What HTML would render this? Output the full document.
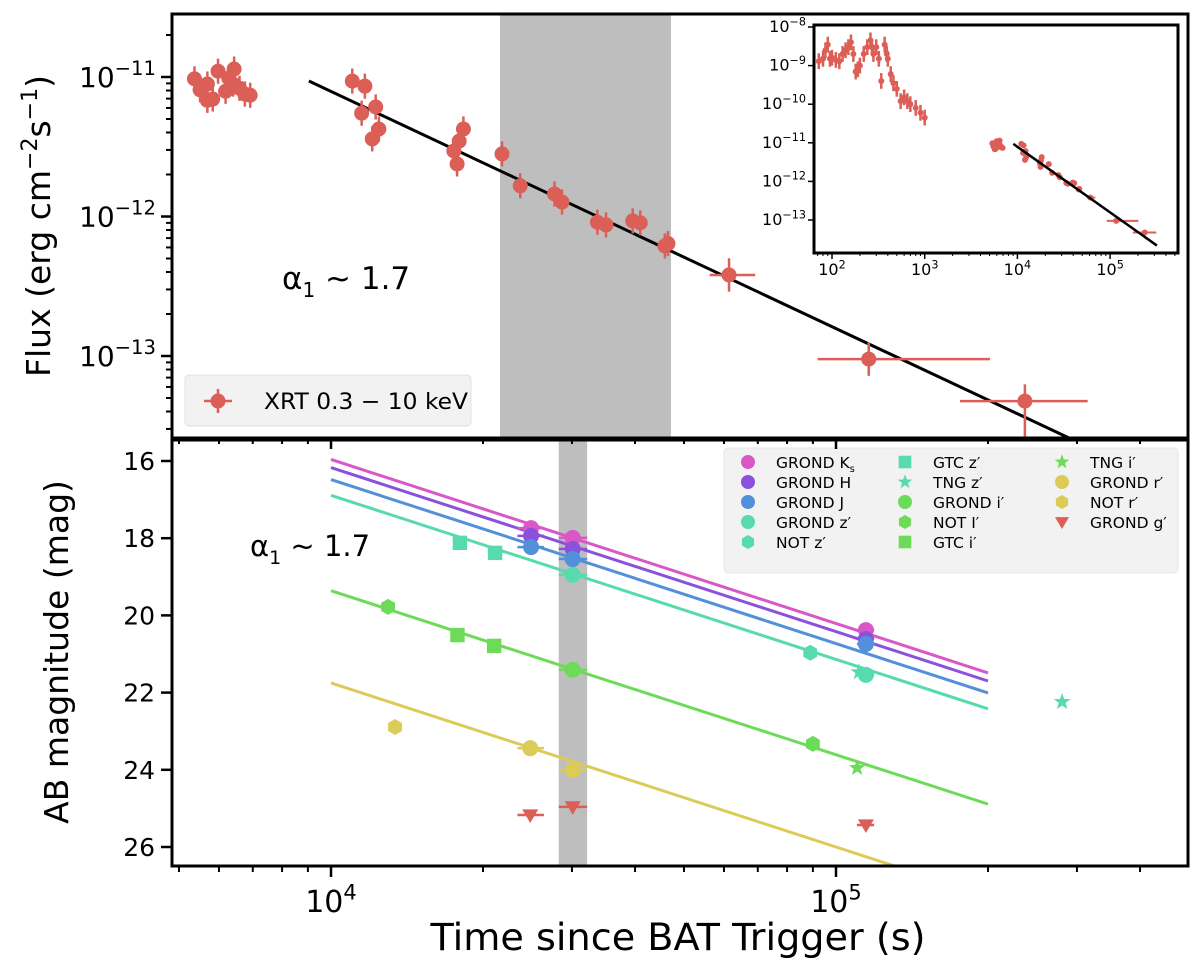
<!DOCTYPE html>
<html><head><meta charset="utf-8"><style>
html,body{margin:0;padding:0;background:#fff;}
svg{display:block;font-family:"DejaVu Sans","Liberation Sans",sans-serif;}
</style></head><body>
<svg id="chart" width="1200" height="966" viewBox="0 0 1200 966" xmlns="http://www.w3.org/2000/svg">
<defs>
<clipPath id="clipTop"><rect x="172" y="14" width="1016" height="424"/></clipPath>
<clipPath id="clipBot"><rect x="172" y="440" width="1016" height="426"/></clipPath>
<clipPath id="clipIn"><rect x="814" y="25" width="364" height="228"/></clipPath>
</defs>
<g id="layer"></g>
</svg>
<script>
// ---------- data: top panel (XRT) ----------
const xrtTime = [5366,5505,5691,5832,5975,6184,6275,6400,6429,6589,6752,6918,5691,
  11020,11670,11500,12260,12440,12070,18290,17940,17510,17770,21810,23700,27710,28670,33690,35040,39580,40960,45830,46480,61400,116100,236600];
const xrtFlux = [9.7e-12,8.1e-12,8.9e-12,6.95e-12,1.10e-11,7.9e-12,9.8e-12,8.9e-12,1.14e-11,8.3e-12,7.55e-12,7.4e-12,6.8e-12,
  9.35e-12,8.6e-12,5.5e-12,6.1e-12,4.24e-12,3.6e-12,4.24e-12,3.47e-12,2.95e-12,2.38e-12,2.81e-12,1.66e-12,1.45e-12,1.27e-12,9.1e-13,8.7e-13,9.3e-13,9.0e-13,6.15e-13,6.4e-13,3.81e-13,9.5e-14,4.75e-14];
const xrtTimeLo = [null,null,null,null,null,null,null,null,null,null,null,null,null,null,null,null,null,null,null,null,null,null,null,null,null,null,null,null,null,null,null,null,null,56200,92000,176000];
const xrtTimeHi = [null,null,null,null,null,null,null,null,null,null,null,null,null,null,null,null,null,null,null,null,null,null,null,null,null,null,null,null,null,null,null,null,null,69200,201800,315000];
const xrtFitRange = [9040, 320000];
const xrtFitAmp = 9.36e-12; // flux at 9040 s
const alphaXrt = 1.7;
const bandTop = [21610, 47130];
const bandBot = [28250, 32150];

// inset early data
const insetTime = [72,80,85,90,95,100,110,120,130,140,150,160,170,180,190,200,220,240,260,270,280,300,320,340,370,390,400,430,460,500,550,600,650,700,800,900,1000];
const insetFlux = [1.3e-9,1.5e-9,2.5e-9,3.5e-9,1.5e-9,1.6e-9,1.4e-9,1.3e-9,2e-9,2.5e-9,3e-9,4e-9,2e-9,7e-10,8e-10,1e-9,2e-9,3e-9,4.5e-9,3e-9,2e-9,3e-9,1.5e-9,4e-10,3.5e-9,2e-9,1.5e-9,6e-10,3.5e-10,2.5e-10,1.2e-10,1.5e-10,1.2e-10,1e-10,8e-11,6e-11,4.5e-11];

// ---------- data: bottom panel (optical/NIR) ----------
const bandNames = ["Ks","H","J","z","i","r","g"];
const bandColors = ["#d957c6","#8a52dc","#5290db","#57dbac","#6cdb57","#dbcb57","#db5f57"];
const fitMagAt1e4 = [15.96,16.17,16.48,16.89,19.36,21.75,null];
const fitRange = [10000, 200000];
const alphaOpt = 1.7;

const ptLabel = ["GROND Ks","GROND Ks","GROND Ks","GROND H","GROND H","GROND H","GROND J","GROND J","GROND J",
 "GROND z","GROND z","NOT z","GTC z","GTC z","TNG z","TNG z",
 "GROND i","NOT i","NOT i","GTC i","GTC i","TNG i",
 "GROND r","GROND r","NOT r","GROND g","GROND g","GROND g"];
const ptBand = [0,0,0,1,1,1,2,2,2, 3,3,3,3,3,3,3, 4,4,4,4,4,4, 5,5,5, 6,6,6];
const ptMarker = ["o","o","o","o","o","o","o","o","o", "o","o","h","s","s","*","*", "o","h","h","s","s","*", "o","o","h","v","v","v"];
const ptTime = [24900,30100,114600, 24900,30100,114600, 24900,30100,114600,
  30100,114600,88900,18000,21130,111000,280400,
  30100,12970,90000,17800,21040,110100,
  24800,30100,13390, 24800,30100,114600];
const ptMag = [17.74,17.99,20.38, 17.94,18.28,20.61, 18.23,18.54,20.74,
  18.95,21.54,20.97,18.12,18.38,21.47,22.24,
  21.41,19.78,23.33,20.51,20.79,23.95,
  23.44,24.01,22.89, 25.17,24.96,25.43];
const ptTimeLo = [23400,28250,110000, 23400,28250,110000, 23400,28250,110000,
  28250,110000,null,null,null,null,null,
  28250,null,null,null,null,null,
  23400,28250,null, 23400,28250,110000];
const ptTimeHi = [26400,32150,119000, 26400,32150,119000, 26400,32150,119000,
  32150,119000,null,null,null,null,null,
  32150,null,null,null,null,null,
  26400,32150,null, 26400,32150,119000];

const legLabels = [["GROND K","s"],["GROND H",""],["GROND J",""],["GROND z′",""],["NOT z′",""],
 ["GTC z′",""],["TNG z′",""],["GROND i′",""],["NOT I′",""],["GTC i′",""],
 ["TNG i′",""],["GROND r′",""],["NOT r′",""],["GROND g′",""]];
const legBand = [0,1,2,3,3, 3,3,4,4,4, 4,5,5,6];
const legMarker = ["o","o","o","o","h", "s","*","o","h","s", "*","o","h","v"];

// ---------- axes ----------
const L = Math.log10;
const xs = t => 331 + (L(t) - 4) * 505;
const yf = f => 77 - (L(f) + 11) * 139.5;
const ym = m => 461 + (m - 16) * 38.6;
const xi = t => 832 + (L(t) - 2) * 92.7;
const yi = f => 27 + (-8 - L(f)) * 38.6;

const NS = "http://www.w3.org/2000/svg";
const root = document.getElementById("layer");
function mk(tag, attrs, parent) {
  const e = document.createElementNS(NS, tag);
  for (const k in attrs) e.setAttribute(k, attrs[k]);
  (parent || root).appendChild(e);
  return e;
}
function grp(name, clip) {
  const g = mk("g", clip ? {"clip-path": "url(#" + clip + ")"} : {});
  
  
  return g;
}
function marker(type, cx, cy, r, color, parent) {
  let e;
  if (type === "o") e = mk("circle", {cx: cx, cy: cy, r: r, fill: color}, parent);
  else if (type === "s") e = mk("rect", {x: cx - r * 0.9, y: cy - r * 0.9, width: r * 1.8, height: r * 1.8, fill: color}, parent);
  else {
    let pts = [];
    if (type === "h") { for (let k = 0; k < 6; k++) { const a = Math.PI / 6 + k * Math.PI / 3; pts.push([cx + r * Math.cos(a), cy + r * Math.sin(a)]); } }
    else if (type === "v") { pts = [[cx - r, cy - r * 0.7], [cx + r, cy - r * 0.7], [cx, cy + r]]; }
    else if (type === "*") { for (let k = 0; k < 10; k++) { const a = -Math.PI / 2 + k * Math.PI / 5; const rr = k % 2 ? r * 0.45 : r * 1.1; pts.push([cx + rr * Math.cos(a), cy + rr * Math.sin(a)]); } }
    e = mk("polygon", {points: pts.map(p => p[0].toFixed(1) + "," + p[1].toFixed(1)).join(" "), fill: color}, parent);
  }
  return e;
}
function powText(x, y, exp, size, anchor, parent) {
  const t = mk("text", {x: x, y: y, "font-size": size, "text-anchor": anchor, fill: "#000"}, parent);
  t.textContent = "10";
  const s = mk("tspan", {"font-size": size * 0.7, dy: -size * 0.42}, t);
  s.textContent = exp;
  return t;
}

// shaded bands
const gb = grp("shaded-intervals", null);
let sb = mk("rect", {x: xs(bandTop[0]), y: 14, width: xs(bandTop[1]) - xs(bandTop[0]), height: 424, fill: "#bebebe"}, gb);


sb = mk("rect", {x: xs(bandBot[0]), y: 440, width: xs(bandBot[1]) - xs(bandBot[0]), height: 426, fill: "#bebebe"}, gb);



// ---------- top panel ----------
const gt = grp("xrt-series", "clipTop");
const red = "#db5f57";
const fitFlux = t => xrtFitAmp * Math.pow(t / xrtFitRange[0], -alphaXrt);
let fl = mk("line", {x1: xs(xrtFitRange[0]), y1: yf(fitFlux(xrtFitRange[0])), x2: xs(xrtFitRange[1]), y2: yf(fitFlux(xrtFitRange[1])), stroke: "#000", "stroke-width": 3}, gt);


for (let i = 0; i < xrtTime.length; i++) {
  const cx = xs(xrtTime[i]), cy = yf(xrtFlux[i]);
  const g = mk("g", {}, gt);
  
  
  const late = i >= xrtTime.length - 3;
  const ee = late ? 0.12 : 0.09;
  mk("line", {x1: cx, y1: yf(xrtFlux[i] * Math.pow(10, ee)), x2: cx, y2: yf(xrtFlux[i] / Math.pow(10, ee * (late && i === xrtTime.length - 1 ? 3 : 1))), stroke: red, "stroke-width": 2.5}, g);
  if (xrtTimeLo[i]) mk("line", {x1: xs(xrtTimeLo[i]), y1: cy, x2: xs(xrtTimeHi[i]), y2: cy, stroke: red, "stroke-width": 2.5}, g);
  marker("o", cx, cy, 7.5, red, g);
}
// top legend
const lg = grp("xrt-legend", null);
mk("rect", {x: 185, y: 375, width: 286, height: 51, rx: 4, fill: "#f2f2f2", stroke: "#e0e0e0"}, lg);
mk("line", {x1: 204, y1: 401, x2: 232, y2: 401, stroke: red, "stroke-width": 2.5}, lg);
mk("line", {x1: 218, y1: 389, x2: 218, y2: 413, stroke: red, "stroke-width": 2.5}, lg);
marker("o", 218, 401, 7.5, red, lg);
let tt = mk("text", {x: 264, y: 409, "font-size": 22.5, fill: "#000", textLength: 204, lengthAdjust: "spacingAndGlyphs"}, lg);
tt.textContent = "XRT 0.3 − 10 keV";



// alpha annotation top
tt = mk("text", {x: 282, y: 289, "font-size": 31, fill: "#000"});
tt.innerHTML = 'α<tspan font-size="20" dy="8">1</tspan><tspan dy="-8"> ~ 1.7</tspan>';



// ---------- inset ----------
const gi = grp("inset-plot", null);
mk("rect", {x: 814, y: 25, width: 364, height: 228, fill: "#fff"}, gi);
const gic = mk("g", {"clip-path": "url(#clipIn)"}, gi);
for (let i = 0; i < insetTime.length; i++) {
  mk("circle", {cx: xi(insetTime[i]), cy: yi(insetFlux[i]), r: 3, fill: red}, gic);
  mk("line", {x1: xi(insetTime[i]), y1: yi(insetFlux[i] * 1.6), x2: xi(insetTime[i]), y2: yi(insetFlux[i] / 1.6), stroke: red, "stroke-width": 2.5}, gic);
}
for (let i = 0; i < xrtTime.length; i++) {
  mk("circle", {cx: xi(xrtTime[i]), cy: yi(xrtFlux[i]), r: 3, fill: red}, gic);
  if (xrtTimeLo[i]) mk("line", {x1: xi(xrtTimeLo[i]), y1: yi(xrtFlux[i]), x2: xi(xrtTimeHi[i]), y2: yi(xrtFlux[i]), stroke: red, "stroke-width": 2}, gic);
}
mk("line", {x1: xi(xrtFitRange[0]), y1: yi(fitFlux(xrtFitRange[0])), x2: xi(xrtFitRange[1]), y2: yi(fitFlux(xrtFitRange[1])), stroke: "#000", "stroke-width": 2.5}, gic);
mk("rect", {x: 814, y: 25, width: 364, height: 228, fill: "none", stroke: "#000", "stroke-width": 3}, gi);
for (let e = 2; e <= 5; e++) {
  mk("line", {x1: xi(Math.pow(10, e)), y1: 253, x2: xi(Math.pow(10, e)), y2: 259, stroke: "#000", "stroke-width": 1.5}, gi);
  powText(xi(Math.pow(10, e)), 275, String(e), 16, "middle", gi);
  for (let m = 2; m < 10; m++) { const t = m * Math.pow(10, e - 1); if (xi(t) > 814 && xi(t) < 1178) mk("line", {x1: xi(t), y1: 253, x2: xi(t), y2: 256, stroke: "#000", "stroke-width": 1}, gi); }
}
for (let m = 2; m < 10; m++) { const t = m * 1e5; if (xi(t) < 1178) mk("line", {x1: xi(t), y1: 253, x2: xi(t), y2: 256, stroke: "#000", "stroke-width": 1}, gi); }
for (let e = -13; e <= -8; e++) {
  const y = yi(Math.pow(10, e));
  mk("line", {x1: 808, y1: y, x2: 814, y2: y, stroke: "#000", "stroke-width": 1.5}, gi);
  powText(806, y + 5, "−" + (-e), 16, "end", gi);
}

// ---------- bottom panel ----------
const gbo = grp("optical-series", "clipBot");
for (let b = 0; b < bandNames.length; b++) {
  if (fitMagAt1e4[b] === null) continue;
  const m1 = fitMagAt1e4[b] + 2.5 * alphaOpt * L(fitRange[0] / 1e4);
  const m2 = fitMagAt1e4[b] + 2.5 * alphaOpt * L(fitRange[1] / 1e4);
  const ln = mk("line", {x1: xs(fitRange[0]), y1: ym(m1), x2: xs(fitRange[1]), y2: ym(m2), stroke: bandColors[b], "stroke-width": 3}, gbo);
  
  
}
for (let i = 0; i < ptTime.length; i++) {
  const col = bandColors[ptBand[i]];
  const cx = xs(ptTime[i]), cy = ym(ptMag[i]);
  const g = mk("g", {}, gbo);
  
  
  if (ptTimeLo[i]) mk("line", {x1: xs(ptTimeLo[i]), y1: cy, x2: xs(ptTimeHi[i]), y2: cy, stroke: col, "stroke-width": 2.5}, g);
  marker(ptMarker[i], cx, cy, 8, col, g);
}
// alpha annotation bottom
tt = mk("text", {x: 250, y: 556, "font-size": 29, fill: "#000"});
tt.innerHTML = 'α<tspan font-size="19" dy="8">1</tspan><tspan dy="-8"> ~ 1.7</tspan>';



// bottom legend
const bl = grp("optical-legend", null);
mk("rect", {x: 724, y: 448, width: 454, height: 125, rx: 4, fill: "#f2f2f2", stroke: "#e6e6e6"}, bl);
for (let k = 0; k < legLabels.length; k++) {
  const col = Math.floor(k / 5), row = k % 5;
  const mx = 748 + col * 157, my = 462 + row * 20;
  const g = mk("g", {}, bl);
  
  
  marker(legMarker[k], mx, my, 7, bandColors[legBand[k]], g);
  const t = mk("text", {x: mx + 28, y: my + 6, "font-size": 15.5, fill: "#000"}, g);
  t.textContent = legLabels[k][0];
  if (legLabels[k][1]) { const s = mk("tspan", {"font-size": 10, dy: 4}, t); s.textContent = legLabels[k][1]; }
}

// ---------- axes frames & ticks ----------
const ax = grp("axes", null);
mk("rect", {x: 172, y: 14, width: 1016, height: 424, fill: "none", stroke: "#000", "stroke-width": 3}, ax);
mk("rect", {x: 172, y: 440, width: 1016, height: 426, fill: "none", stroke: "#000", "stroke-width": 3}, ax);
const xMajor = [1e4, 1e5];
const xMinorMult = [2,3,4,5,6,7,8,9];
[438, 866].forEach(yb => {
  for (let e = 3; e <= 5; e++) {
    xMinorMult.forEach(m => { const t = m * Math.pow(10, e); const x = xs(t); if (x > 173 && x < 1187) mk("line", {x1: x, y1: yb, x2: x, y2: yb + 6, stroke: "#000", "stroke-width": 2}, ax); });
  }
  xMajor.forEach(t => mk("line", {x1: xs(t), y1: yb, x2: xs(t), y2: yb + 11, stroke: "#000", "stroke-width": 2.5}, ax));
});
xMajor.forEach(t => {
  const lbl = powText(xs(t), 912, String(Math.round(L(t))), 30, "middle", ax);
  
  
});
for (let e = -14; e <= -10; e++) {
  for (let m = 1; m < 10; m++) {
    const y = yf(m * Math.pow(10, e));
    if (y < 15 || y > 437) continue;
    mk("line", {x1: m === 1 ? 161 : 166, y1: y, x2: 172, y2: y, stroke: "#000", "stroke-width": m === 1 ? 2.5 : 2}, ax);
    if (m === 1) {
      const lbl = powText(156, y + 10, "−" + (-e), 28, "end", ax);
      
      
    }
  }
}
const magTicks = [16,18,20,22,24,26];
magTicks.forEach(m => {
  mk("line", {x1: 161, y1: ym(m), x2: 172, y2: ym(m), stroke: "#000", "stroke-width": 2.5}, ax);
  const t = mk("text", {x: 155, y: ym(m) + 9, "font-size": 25, "text-anchor": "end", fill: "#000"}, ax);
  t.textContent = m;
  
  
});
tt = mk("text", {x: 0, y: 0, "font-size": 33, "text-anchor": "middle", fill: "#000", transform: "translate(50,226) rotate(-90)"});
tt.innerHTML = 'Flux (erg cm<tspan font-size="22" dy="-13">−2</tspan><tspan dy="13">s</tspan><tspan font-size="22" dy="-13">−1</tspan><tspan dy="13">)</tspan>';


tt = mk("text", {x: 0, y: 0, "font-size": 33, "text-anchor": "middle", fill: "#000", transform: "translate(68,652) rotate(-90)"});
tt.textContent = "AB magnitude (mag)";


tt = mk("text", {x: 678, y: 950, "font-size": 37, "text-anchor": "middle", fill: "#000", textLength: 495, lengthAdjust: "spacingAndGlyphs"});
tt.textContent = "Time since BAT Trigger (s)";


</script>
</body></html>
